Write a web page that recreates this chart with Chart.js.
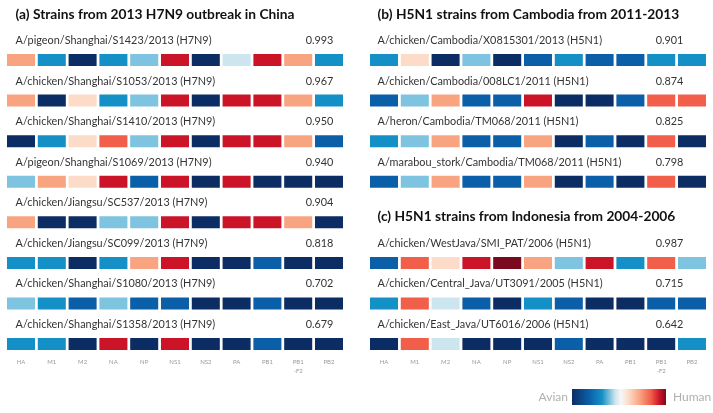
<!DOCTYPE html>
<html><head><meta charset="utf-8">
<script src="https://cdn.jsdelivr.net/npm/chart.js@4.4.1/dist/chart.umd.min.js"></script>
<style>
html,body{margin:0;padding:0;background:#fff;}
#wrap{position:relative;width:713px;height:413px;overflow:hidden;}
#cA{position:absolute;left:0;top:0;}
#cB{position:absolute;left:356px;top:0;}
#legend{position:absolute;left:520px;top:386px;width:193px;height:22px;font-family:Lato,sans-serif;font-size:12px;color:#b0b0b0;}
#legend .bar{position:absolute;left:52px;top:3px;width:94px;height:16px;background:linear-gradient(to right,#0b2d64 0%,#0b5fa8 18%,#1590c6 32%,#cde5ef 46%,#f7f7f7 52%,#fcdcc9 60%,#f9a481 72%,#f15e4a 84%,#cc1428 93%,#7b0a1e 100%);}
#legend .av{position:absolute;right:145px;top:3px;}
#legend .hu{position:absolute;left:153px;top:3px;}
</style></head>
<body><div id="wrap">
<canvas id="cA" width="356" height="413"></canvas>
<canvas id="cB" width="357" height="413"></canvas>
<div id="legend"><span class="av">Avian</span><div class="bar"></div><span class="hu">Human</span></div>
</div>
<script>
// ---- data ----
const genes = ["HA","M1","M2","NA","NP","NS1","NS2","PA","PB1",["PB1","-F2"],"PB2"];
// colour levels 1 (avian, dark blue) ... 10 (human, dark red)
const levelColors = ["#0b2d64","#0b5fa8","#1590c6","#7ec3df","#cde5ef","#fcdcc9","#f9a481","#f15e4a","#cc1428","#7b0a1e"];

const titleA = "(a) Strains from 2013 H7N9 outbreak in China";
const strainsA = [
 "A/pigeon/Shanghai/S1423/2013 (H7N9)",
 "A/chicken/Shanghai/S1053/2013 (H7N9)",
 "A/chicken/Shanghai/S1410/2013 (H7N9)",
 "A/pigeon/Shanghai/S1069/2013 (H7N9)",
 "A/chicken/Jiangsu/SC537/2013 (H7N9)",
 "A/chicken/Jiangsu/SC099/2013 (H7N9)",
 "A/chicken/Shanghai/S1080/2013 (H7N9)",
 "A/chicken/Shanghai/S1358/2013 (H7N9)"];
const scoresA = ["0.993","0.967","0.950","0.940","0.904","0.818","0.702","0.679"];
const levelsA = [
 [7,3,1,3,4,9,1,5,9,7,3],
 [7,1,6,3,4,9,1,9,9,7,3],
 [1,3,6,8,4,9,1,9,9,7,2],
 [4,7,6,9,2,9,1,9,1,1,1],
 [7,1,1,4,4,9,1,9,9,7,1],
 [3,3,1,3,7,9,1,1,2,1,1],
 [4,3,2,4,2,2,1,1,2,1,1],
 [3,3,1,9,1,9,1,1,2,1,1]];

const titleB = "(b) H5N1 strains from Cambodia from 2011-2013";
const strainsB = [
 "A/chicken/Cambodia/X0815301/2013 (H5N1)",
 "A/chicken/Cambodia/008LC1/2011 (H5N1)",
 "A/heron/Cambodia/TM068/2011 (H5N1)",
 "A/marabou_stork/Cambodia/TM068/2011 (H5N1)"];
const scoresB = ["0.901","0.874","0.825","0.798"];
const levelsB = [
 [3,6,1,4,1,2,3,2,2,3,3],
 [2,4,7,2,2,9,1,1,2,8,8],
 [3,4,7,2,2,7,1,2,1,8,1],
 [2,4,7,2,2,7,1,2,1,8,1]];

const titleC = "(c) H5N1 strains from Indonesia from 2004-2006";
const strainsC = [
 "A/chicken/WestJava/SMI_PAT/2006 (H5N1)",
 "A/chicken/Central_Java/UT3091/2005 (H5N1)",
 "A/chicken/East_Java/UT6016/2006 (H5N1)"];
const scoresC = ["0.987","0.715","0.642"];
const levelsC = [
 [2,8,6,9,10,7,4,9,3,8,4],
 [3,8,5,2,1,3,2,1,1,2,2],
 [1,8,5,1,1,1,2,1,1,1,3]];

// ---- helpers ----
const CELL_H = 0.296;
const FONT = "Lato, 'Open Sans', sans-serif";

function makeDatasets(rows){ // rows: [{row, levels}]
  return rows.map(r => ({
    data: genes.map(() => [r.row, r.row + CELL_H]),
    backgroundColor: r.levels.map(l => levelColors[l-1]),
    borderWidth: 0,
    grouped: false,
    categoryPercentage: 1,
    barPercentage: 0.91
  }));
}

// font sizes fitted so that reference strings take the same width as in the original figure
function fitSize(ctx, weight, text, targetW){
  ctx.font = weight + " 20px " + FONT;
  return 20 * targetW / ctx.measureText(text).width;
}

const textPlugin = {
  id: 'panelText',
  afterDatasetsDraw(chart, args, opts){
    const ctx = chart.ctx, x = chart.scales.x, y = chart.scales.y;
    ctx.save();
    const titleSize = fitSize(ctx, 'bold', titleA, 279);
    const labelSize = fitSize(ctx, 'normal', strainsA[0], 196);
    ctx.textBaseline = 'middle';
    (opts.titles||[]).forEach(t => {
      ctx.font = "bold " + titleSize + "px " + FONT;
      ctx.fillStyle = '#111';
      ctx.textAlign = 'left';
      ctx.fillText(t.text, x.left + opts.labelDx, y.getPixelForValue(t.row) + t.dy);
    });
    (opts.rows||[]).forEach(r => {
      const py = y.getPixelForValue(r.row) - 13.5;
      ctx.font = labelSize + "px " + FONT;
      ctx.fillStyle = '#333';
      ctx.textAlign = 'left';
      ctx.fillText(r.label, x.left + opts.labelDx, py);
      ctx.textAlign = 'right';
      ctx.fillText(r.score, x.right - opts.scoreDx, py);
    });
    ctx.restore();
  }
};

function makeChart(id, datasets, textOpts, padding){
  return new Chart(document.getElementById(id), {
    type: 'bar',
    data: { labels: genes, datasets },
    plugins: [textPlugin],
    options: {
      responsive: false, animation: false,
      layout: { padding },
      plugins: { legend: {display:false}, tooltip: {enabled:false}, panelText: textOpts },
      scales: {
        x: { grid: {display:false, drawTicks:false}, border: {display:false},
             afterFit(scale){ scale.height = 28; },
             ticks: { color:'#9a9a9a', font:{size:6, family:FONT, lineHeight:1.5}, padding:7, maxRotation:0, autoSkip:false } },
        y: { display:false, reverse:true, min:-1.1, max:7.32 }
      }
    }
  });
}

const rowsA = levelsA.map((l,i) => ({row:i, levels:l}));
makeChart('cA', makeDatasets(rowsA), {
  labelDx: 10, scoreDx: 11,
  titles: [{text:titleA, row:0, dy:-39}],
  rows: strainsA.map((s,i) => ({row:i, label:s, score:scoresA[i]}))
}, {left:5.6, right:11.6, top:9.4, bottom:34});

const rowsB = levelsB.map((l,i) => ({row:i, levels:l}))
  .concat(levelsC.map((l,i) => ({row:i+5, levels:l})));
makeChart('cB', makeDatasets(rowsB), {
  labelDx: 9, scoreDx: 24,
  titles: [{text:titleB, row:0, dy:-39}, {text:titleC, row:4, dy:0}],
  rows: strainsB.map((s,i) => ({row:i, label:s, score:scoresB[i]}))
    .concat(strainsC.map((s,i) => ({row:i+5, label:s, score:scoresC[i]})))
}, {left:12.6, right:5.6, top:9.4, bottom:34});
</script>
</body></html>
